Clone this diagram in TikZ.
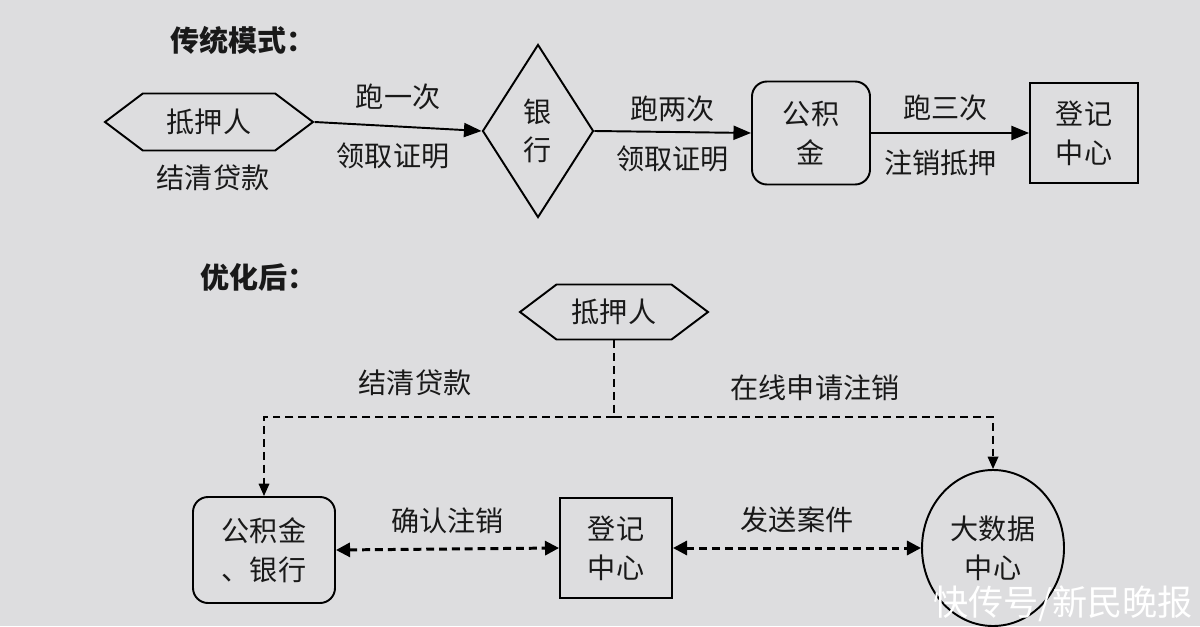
\documentclass[tikz,border=0pt]{standalone}
\usepackage{fontspec}
\setmainfont{Noto Sans CJK SC}
\usepackage{tikz}
\usetikzlibrary{arrows.meta,shapes.geometric,shapes.symbols,positioning}
\definecolor{bggray}{RGB}{221,221,223}
\definecolor{inkcol}{RGB}{25,25,25}
\newcommand{\cntext}{\fontsize{16}{22}\selectfont}
\newcommand{\cntitle}{\fontsize{16.5}{20}\selectfont\bfseries}
\tikzset{
    hexnode/.style={signal, signal to=west and east, signal pointer angle=74, draw, line width=1.1pt, inner sep=0pt, font=\cntext},
    bank/.style={diamond, draw, line width=1.1pt, inner sep=0pt, minimum width=2.22cm, minimum height=3.46cm, align=center, font=\cntext},
    roundbox/.style={rectangle, rounded corners=0.3cm, draw, line width=1.1pt, align=center, font=\cntext},
    plainbox/.style={rectangle, draw, line width=1.1pt, align=center, font=\cntext},
    bigdata/.style={ellipse, draw, line width=1.1pt, inner sep=0pt, minimum width=2.84cm, minimum height=3.12cm, align=center, font=\cntext},
    label/.style={font=\cntext, text=inkcol},
    flow/.style={draw, line width=1.1pt, -{Triangle[length=10pt,width=8pt]}},
    dline/.style={draw, line width=0.9pt, dash pattern=on 4.5pt off 2.8pt},
    dflow/.style={draw, line width=1.7pt, dash pattern=on 4.5pt off 2.8pt, {Triangle[length=8pt,width=8pt]}-{Triangle[length=8pt,width=8pt]}},
    dhead/.style={-{Triangle[length=7pt,width=6pt]}}
}
\begin{document}
\begin{tikzpicture}[x=0.2mm, y=-0.2mm, text=inkcol]
\fill[bggray] (0,0) rectangle (1200,626);
\useasboundingbox (0,0) rectangle (1200,626);

% traditional mode
\node[font=\cntitle] (title1) at (243,40) {传统模式：};
\node[hexnode, minimum width=4.16cm, minimum height=1.14cm] (m1) at (209,122) {抵押人};
\node[label] (settle1) at (213,178) {结清贷款};
\node[bank] (yh) at (538,131) {银\\行};
\node[roundbox, minimum width=2.36cm, minimum height=2.06cm] (gjj) at (811,133) {公积\\金};
\node[plainbox, minimum width=2.16cm, minimum height=2.0cm] (djzx1) at (1084,133) {登记\\中心};

\draw[flow] (m1.east) -- node[label, pos=0.5, above=0.2cm] (run1) {跑一次} node[label, pos=0.47, below=0.2cm] (cert1) {领取证明} (yh.west);
\draw[flow] (yh.east) -- node[label, pos=0.5, above=0.06cm] (run2) {跑两次} node[label, pos=0.5, below=0.15cm] (cert2) {领取证明} (gjj.west);
\draw[flow] (gjj.east) -- node[label, pos=0.47, above=0.1cm] (run3) {跑三次} node[label, pos=0.44, below=0.2cm] (cancel1) {注销抵押} (djzx1.west);

% optimized
\node[font=\cntitle] (title2) at (258,277) {优化后：};
\node[hexnode, minimum width=3.76cm, minimum height=1.1cm] (m2) at (614,312) {抵押人};
\coordinate (split) at (614,417);
\node[roundbox, minimum width=2.84cm, minimum height=2.12cm] (gjjyh) at (264,550) {公积金\\、银行};
\node[plainbox, minimum width=2.24cm, minimum height=2.0cm] (djzx2) at (616,548) {登记\\中心};
\node[bigdata] (dsj) at (993,548) {大数据\\中心};

\draw[dline] (m2.south) -- (split);
\draw[dline, dhead] (split) -| (gjjyh.north);
\draw[dline, dhead] (split) -| (dsj.north);
\node[label] (settle2) at (415,383) {结清贷款};
\node[label] (online) at (815,388) {在线申请注销};

\draw[dflow] (gjjyh.east) -- node[label, above=0.15cm] (confirm) {确认注销} (djzx2.west);
\draw[dflow] (djzx2.east) -- node[label, above=0.15cm] (send) {发送案件} (dsj.west);

\node[font=\fontsize{20}{22}\selectfont, text=white] (mark) at (1063,604) {快传号/新民晚报};
\end{tikzpicture}
\end{document}
